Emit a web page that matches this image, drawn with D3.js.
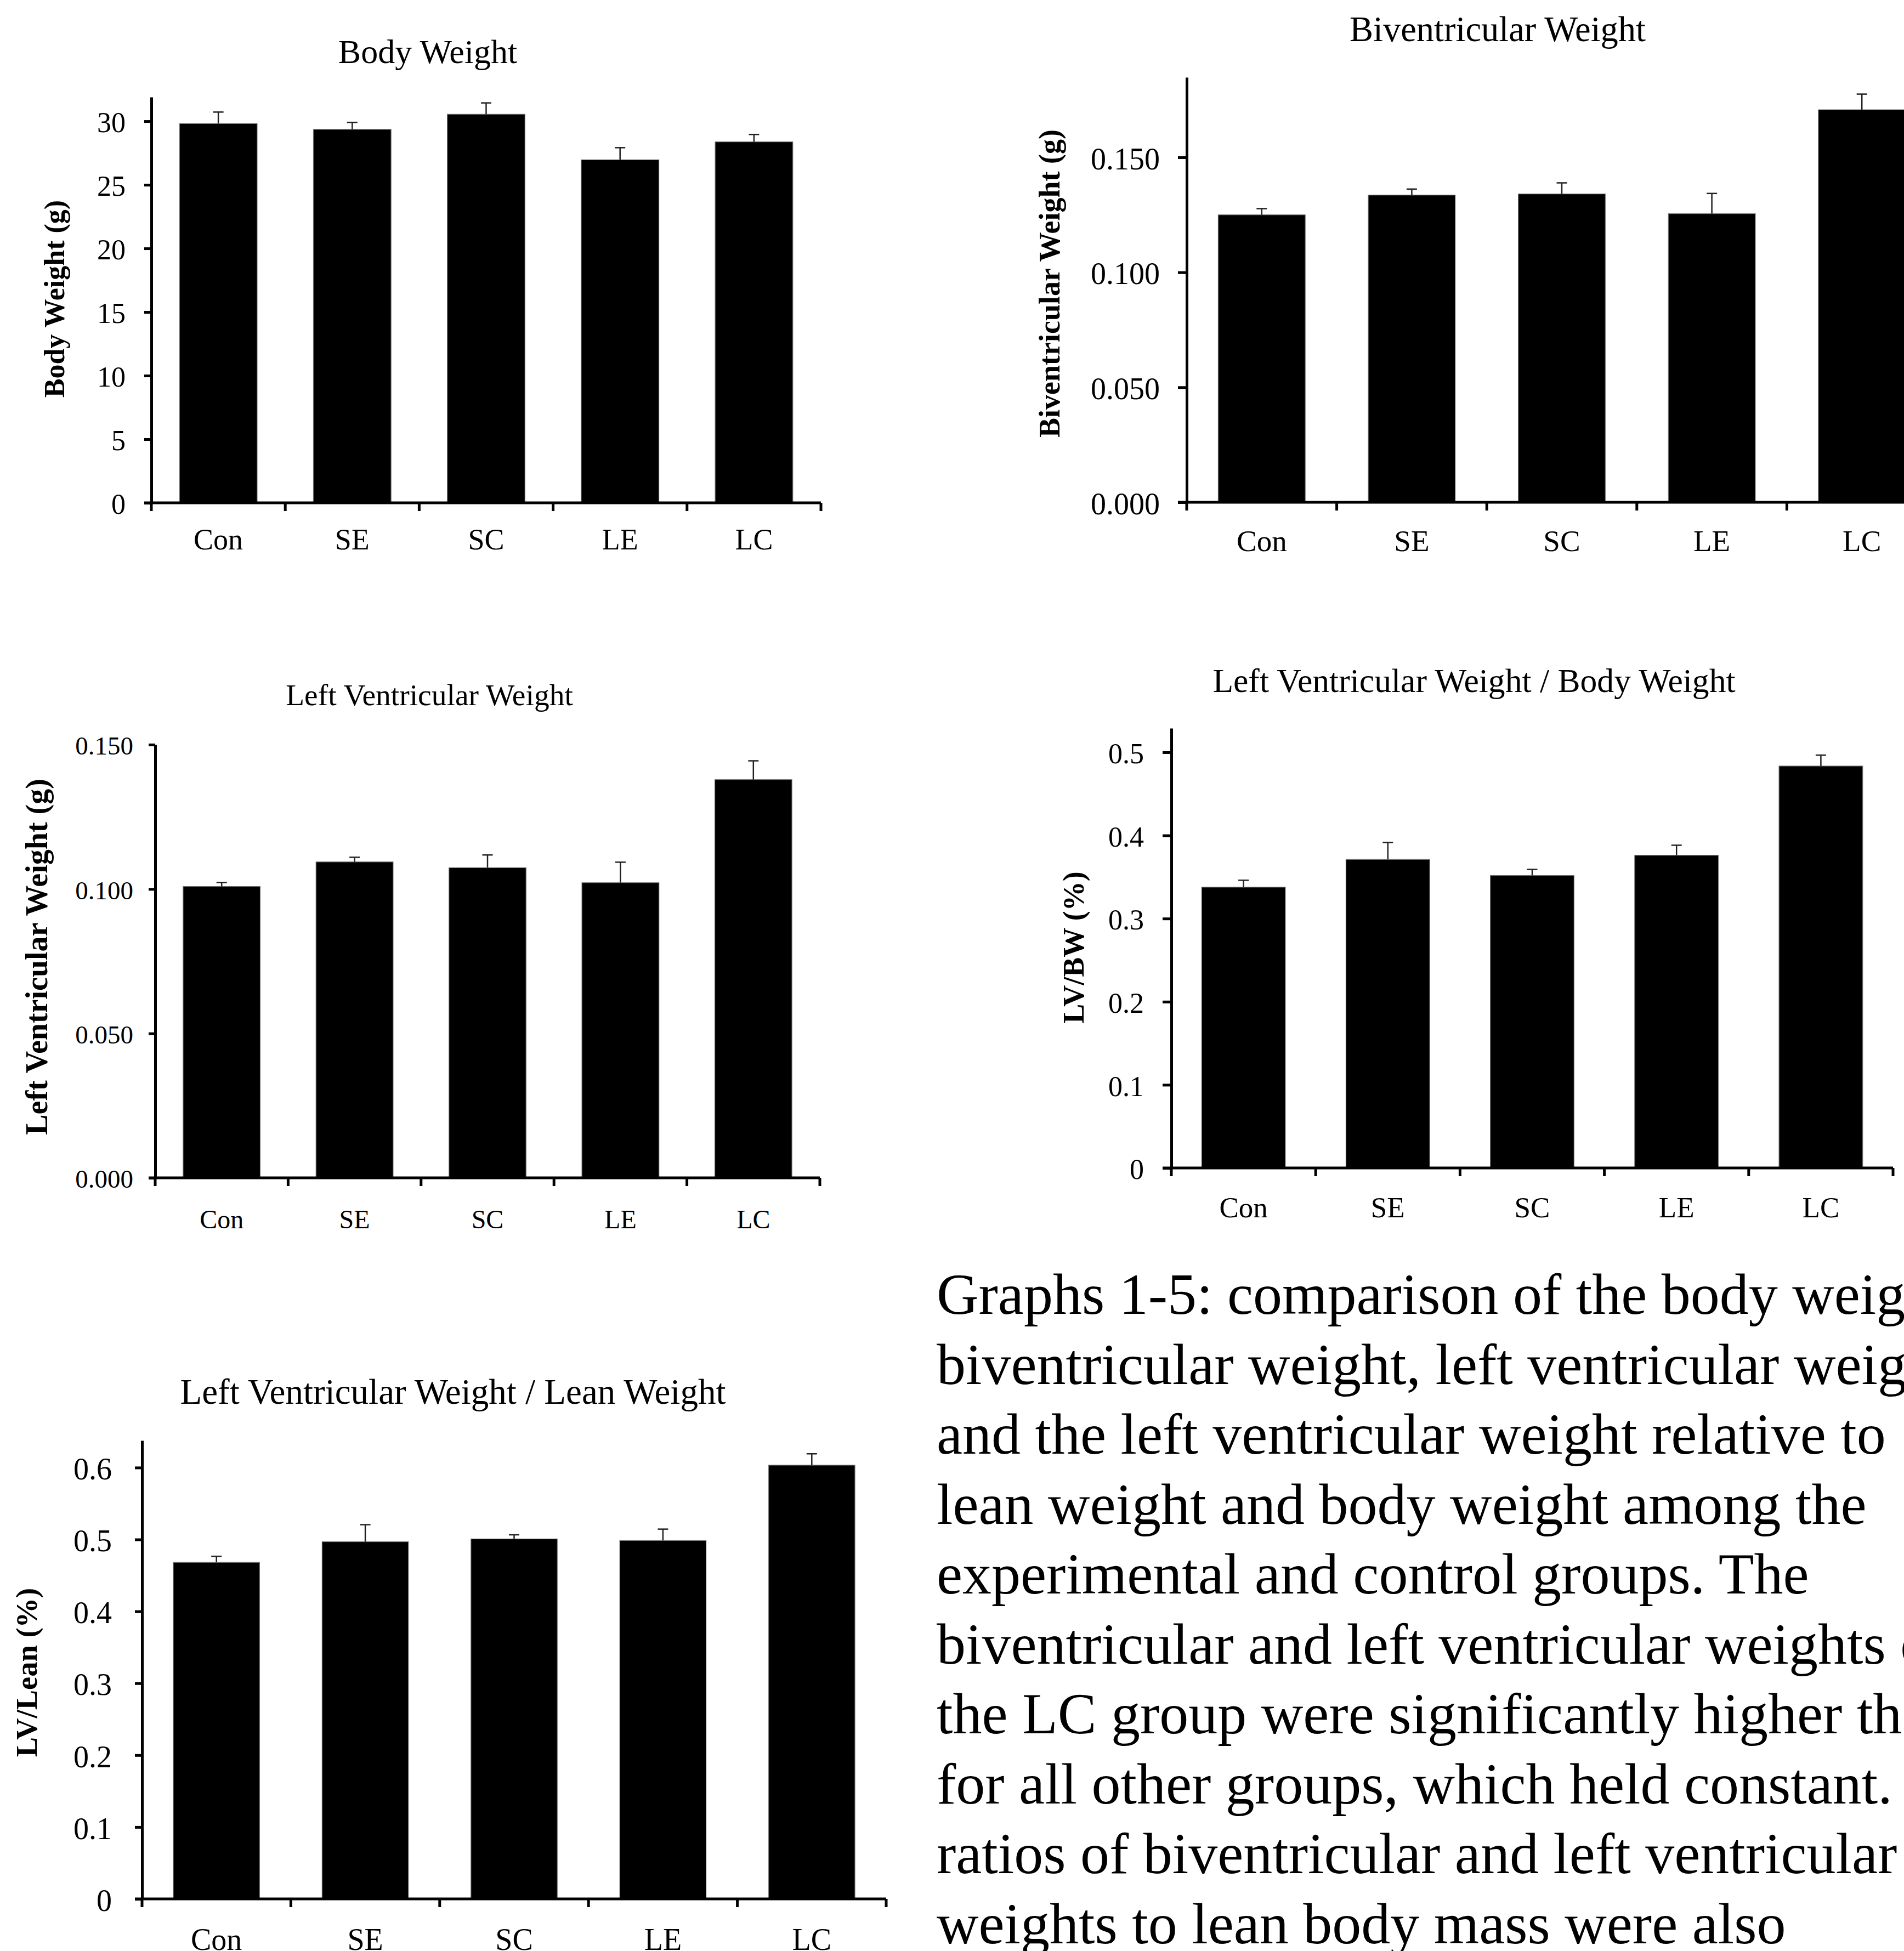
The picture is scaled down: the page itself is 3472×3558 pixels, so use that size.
<!DOCTYPE html>
<html>
<head>
<meta charset="utf-8">
<script src="https://cdn.jsdelivr.net/npm/d3@7"></script>
<style>
  html, body { margin: 0; padding: 0; background: #fff; overflow: hidden; }
  svg { display: block; }
</style>
</head>
<body>
<script>
// ---------------- DATA ----------------
const categories = ["Con", "SE", "SC", "LE", "LC"];

const bodyWeightMean = [29.82, 29.36, 30.55, 26.97, 28.38];
const bodyWeightErr  = [0.90, 0.55, 0.89, 0.95, 0.58];
const bodyWeightTicks = [0, 5, 10, 15, 20, 25, 30];

const biventMean = [0.1250, 0.1336, 0.1341, 0.1255, 0.1707];
const biventErr  = [0.0027, 0.0026, 0.0048, 0.0088, 0.0068];
const biventTicks = [0, 0.05, 0.10, 0.15];

const lvMean = [0.1009, 0.1094, 0.1074, 0.1022, 0.1379];
const lvErr  = [0.0014, 0.0016, 0.0044, 0.0071, 0.0065];
const lvTicks = [0, 0.05, 0.10, 0.15];

const lvbwMean = [0.3378, 0.3712, 0.3519, 0.3761, 0.4835];
const lvbwErr  = [0.0083, 0.0204, 0.0072, 0.0121, 0.0131];
const lvbwTicks = [0, 0.1, 0.2, 0.3, 0.4, 0.5];

const lvleanMean = [0.4682, 0.4969, 0.5008, 0.4986, 0.6034];
const lvleanErr  = [0.0084, 0.0237, 0.0057, 0.0158, 0.0158];
const lvleanTicks = [0, 0.1, 0.2, 0.3, 0.4, 0.5, 0.6];

const captionLines = [
  "Graphs 1-5: comparison of the body weight,",
  "biventricular weight, left ventricular weight,",
  "and the left ventricular weight relative to",
  "lean weight and body weight among the",
  "experimental and control groups. The",
  "biventricular and left ventricular weights of",
  "the LC group were significantly higher than",
  "for all other groups, which held constant. The",
  "ratios of biventricular and left ventricular",
  "weights to lean body mass were also"
];

// ---------------- LAYOUT ----------------
const W = 3472, H = 3558;
const SERIF = "'Liberation Serif', 'Times New Roman', Times, serif";

const svg = d3.select("body").append("svg")
  .attr("width", W).attr("height", H)
  .attr("viewBox", `0 0 ${W} ${H}`);
svg.append("rect").attr("width", W).attr("height", H).attr("fill", "#fff");

const fmt3 = d3.format(".3f");
const fmt1 = d => d === 0 ? "0" : d3.format(".1f")(d);

const charts = [
  { title: "Body Weight", ylabel: "Body Weight (g)", mean: bodyWeightMean, err: bodyWeightErr,
    ticks: bodyWeightTicks, fmt: d3.format("d"),
    x0: 276, x1: 1497, yTop: 177, yBase: 917, yMax: 31.9, tickLen: 13, labelRight: 229, tickFont: 52,
    titleX: 780, titleY: 115, titleFont: 62, ylabX: 117, ylabY: 545, ylabFont: 52, catY: 1002, catFont: 54 },
  { title: "Biventricular Weight", ylabel: "Biventricular Weight (g)", mean: biventMean, err: biventErr,
    ticks: biventTicks, fmt: fmt3,
    x0: 2164, x1: 3532, yTop: 141, yBase: 916, yMax: 0.1848, tickLen: 16, labelRight: 2115, tickFont: 56,
    titleX: 2731, titleY: 75, titleFont: 64.5, ylabX: 1932, ylabY: 517, ylabFont: 54, catY: 1005, catFont: 55 },
  { title: "Left Ventricular Weight", ylabel: "Left Ventricular Weight (g)", mean: lvMean, err: lvErr,
    ticks: lvTicks, fmt: fmt3,
    x0: 283, x1: 1495, yTop: 1358, yBase: 2148, yMax: 0.15, tickLen: 12, labelRight: 243, tickFont: 47,
    titleX: 783, titleY: 1286, titleFont: 55.5, ylabX: 86, ylabY: 1745, ylabFont: 56, catY: 2240, catFont: 48 },
  { title: "Left Ventricular Weight / Body Weight", ylabel: "LV/BW (%)", mean: lvbwMean, err: lvbwErr,
    ticks: lvbwTicks, fmt: fmt1,
    x0: 2136, x1: 3452, yTop: 1328, yBase: 2130, yMax: 0.529, tickLen: 16, labelRight: 2086, tickFont: 52,
    titleX: 2688, titleY: 1262, titleFont: 61.6, ylabX: 1976, ylabY: 1728, ylabFont: 54, catY: 2220, catFont: 53 },
  { title: "Left Ventricular Weight / Lean Weight", ylabel: "LV/Lean (%)", mean: lvleanMean, err: lvleanErr,
    ticks: lvleanTicks, fmt: fmt1,
    x0: 259, x1: 1616, yTop: 2627, yBase: 3463, yMax: 0.6377, tickLen: 13, labelRight: 204, tickFont: 56,
    titleX: 826, titleY: 2560, titleFont: 65, ylabX: 67, ylabY: 3050, ylabFont: 54.5, catY: 3556, catFont: 56 }
];

const AXIS_W = 5;

charts.forEach(c => {
  const g = svg.append("g");
  const x = d3.scaleBand().domain(categories).range([c.x0, c.x1])
    .paddingInner(0.42).paddingOuter(0.21);
  const y = d3.scaleLinear().domain([0, c.yMax]).range([c.yBase, c.yTop]);
  const data = categories.map((k, i) => ({ k, v: c.mean[i], e: c.err[i] }));

  // bars
  g.selectAll("rect.bar").data(data).join("rect")
    .attr("class", "bar")
    .attr("x", d => x(d.k))
    .attr("width", x.bandwidth())
    .attr("y", d => y(d.v))
    .attr("height", d => y(0) - y(d.v))
    .attr("fill", "#000")
    .attr("stroke", "#777")
    .attr("stroke-width", 1.2);

  // error bars (upper only)
  const eb = g.selectAll("g.err").data(data).join("g").attr("class", "err");
  eb.append("line")
    .attr("x1", d => x(d.k) + x.bandwidth() / 2).attr("x2", d => x(d.k) + x.bandwidth() / 2)
    .attr("y1", d => y(d.v)).attr("y2", d => y(d.v + d.e))
    .attr("stroke", "#222").attr("stroke-width", 2.5);
  eb.append("line")
    .attr("x1", d => x(d.k) + x.bandwidth() / 2 - 9.5).attr("x2", d => x(d.k) + x.bandwidth() / 2 + 9.5)
    .attr("y1", d => y(d.v + d.e)).attr("y2", d => y(d.v + d.e))
    .attr("stroke", "#222").attr("stroke-width", 2.5);

  // y axis
  const yAxis = d3.axisLeft(y).tickValues(c.ticks).tickFormat(c.fmt)
    .tickSize(c.tickLen).tickSizeOuter(0).tickPadding(c.x0 - c.tickLen - c.labelRight);
  const ya = g.append("g").attr("transform", `translate(${c.x0},0)`).call(yAxis);
  ya.attr("font-family", SERIF).attr("font-size", c.tickFont);
  ya.select(".domain").attr("stroke", "#000").attr("stroke-width", AXIS_W);
  ya.selectAll(".tick line").attr("stroke", "#000").attr("stroke-width", AXIS_W);
  ya.selectAll(".tick text").attr("fill", "#000").attr("dy", "0.38em");

  // x axis line + boundary ticks
  g.append("line")
    .attr("x1", c.x0 - c.tickLen).attr("x2", c.x1)
    .attr("y1", y(0)).attr("y2", y(0))
    .attr("stroke", "#000").attr("stroke-width", AXIS_W);
  const bounds = d3.range(categories.length + 1).map(i => c.x0 + i * x.step());
  g.selectAll("line.xt").data(bounds).join("line")
    .attr("class", "xt")
    .attr("x1", d => d).attr("x2", d => d)
    .attr("y1", y(0)).attr("y2", y(0) + 15)
    .attr("stroke", "#000").attr("stroke-width", AXIS_W);

  // category labels
  g.selectAll("text.cat").data(categories).join("text")
    .attr("class", "cat")
    .attr("x", d => x(d) + x.bandwidth() / 2)
    .attr("y", c.catY)
    .attr("text-anchor", "middle")
    .attr("font-family", SERIF).attr("font-size", c.catFont)
    .attr("fill", "#000")
    .text(d => d);

  // title
  g.append("text")
    .attr("x", c.titleX).attr("y", c.titleY)
    .attr("text-anchor", "middle")
    .attr("font-family", SERIF).attr("font-size", c.titleFont)
    .attr("fill", "#000")
    .text(c.title);

  // y label
  g.append("text")
    .attr("transform", `translate(${c.ylabX},${c.ylabY}) rotate(-90)`)
    .attr("text-anchor", "middle")
    .attr("font-family", SERIF).attr("font-size", c.ylabFont)
    .attr("font-weight", "bold")
    .attr("fill", "#000")
    .text(c.ylabel);
});

// caption
svg.append("g").selectAll("text").data(captionLines).join("text")
  .attr("x", 1708)
  .attr("y", (d, i) => 2396 + i * 127.5)
  .attr("font-family", SERIF).attr("font-size", 106)
  .attr("fill", "#000")
  .text(d => d);
</script>
</body>
</html>
